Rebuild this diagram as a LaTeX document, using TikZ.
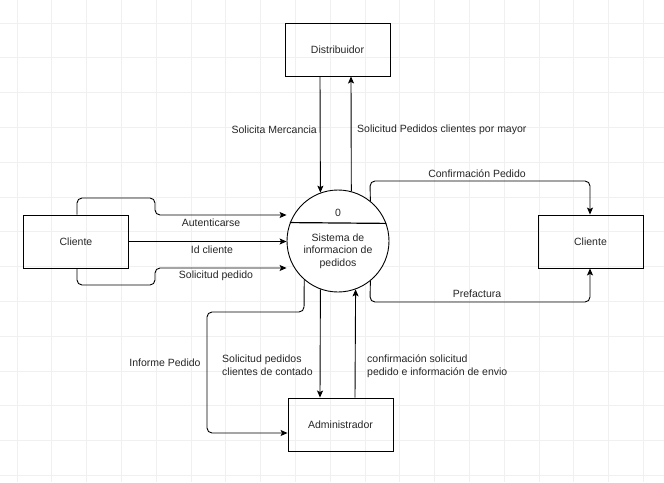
\documentclass[tikz,border=0pt]{standalone}
\usepackage{fontspec}
\setmainfont{Liberation Sans}
\usetikzlibrary{arrows.meta}
\begin{document}
\begin{tikzpicture}[x=1pt,y=-1pt,
  every node/.style={font=\fontsize{10.5}{12.5}\selectfont, text=black!85},
  entity/.style={draw, line width=0.9pt, minimum width=105pt, minimum height=53pt, inner sep=0pt},
  flow/.style={draw, line width=0.9pt, rounded corners=5pt, -{Stealth[length=7pt,width=6pt,inset=1.5pt]}},
  lbl/.style={inner sep=1pt},
  gridline/.style={black!6, line width=0.8pt}]
\useasboundingbox (0,0) rectangle (664,482);
\fill[white] (0,0) rectangle (664,482);
\foreach \i in {0,...,18} {\draw[gridline] ({17+34.8*\i},0) -- ({17+34.8*\i},482);}
\foreach \j in {0,...,13} {\draw[gridline] (0,{23+34.8*\j}) -- (664,{23+34.8*\j});}

% entities
\node[entity] (dist) at (337.5,49.5) {Distribuidor};
\node[entity] (cliL) at (76,241.5) {Cliente};
\node[entity] (cliR) at (590.5,241.5) {Cliente};
\node[entity] (adm) at (340.5,424.5) {Administrador};

% process
\node[draw, circle, line width=0.9pt, minimum size=102pt, inner sep=0pt, fill=white] (circ) at (338,241) {};
\draw[line width=1.2pt] (circ.159.3) -- (circ.20.7);
\node (num) at (338,213) {0};
\node[align=center, font=\fontsize{10.5}{12.5}\selectfont] (txt) at (338,251) {Sistema de\\informacion de\\pedidos};

% Distribuidor flows
\draw[flow] (320,0 |- dist.south) -- (circ.110.7);
\draw[flow] (circ.75.2) -- (351,0 |- dist.south);
\node[lbl, anchor=east] (l1) at (318,130) {Solicita Mercancia};
\node[lbl, anchor=west] (l2) at (356,130) {Solicitud Pedidos clientes por mayor};

% Left Cliente flows
\coordinate (a1) at (77,198);
\coordinate (a2) at (155,215);
\draw[flow] (77,0 |- cliL.north) -- (a1) -- (a1 -| a2) -- (a2) -- (circ.west |- a2);
\draw[flow] (cliL.east) -- (circ.west |- cliL.east);
\coordinate (b1) at (77,285);
\coordinate (b2) at (155,268);
\draw[flow] (77,0 |- cliL.south) -- (b1) -- (b1 -| b2) -- (b2) -- (circ.west |- b2);
\node[lbl] (l3) at (211,223) {Autenticarse};
\node[lbl] (l4) at (212,250) {Id cliente};
\node[lbl] (l5) at (216,276) {Solicitud pedido};

% Right Cliente flows
\coordinate (c1) at (370,181);
\draw[flow] (circ.51.2) -- (c1) -- (590,181) -- (590,0 |- cliR.north);
\coordinate (d1) at (370,302);
\draw[flow] (circ.-51.2) -- (d1) -- (590,302) -- (590,0 |- cliR.south);
\node[lbl] (l6) at (477,174) {Confirmación Pedido};
\node[lbl] (l7) at (477,294) {Prefactura};

% Administrador flows
\draw[flow] (circ.-110.7) -- (320,0 |- adm.north);
\draw[flow] (355,0 |- adm.north) -- (circ.-70.5);
\coordinate (e1) at (304,312);
\coordinate (e2) at (207,433);
\draw[flow] (circ.-131.8) -- (e1) -- (e1 -| e2) -- (e2) -- (adm.west |- e2);
\node[lbl, anchor=west, align=left] (l8) at (221,365) {Solicitud pedidos\\clientes de contado};
\node[lbl, anchor=west, align=left] (l9) at (366,366) {confirmación solicitud\\pedido e información de envio};
\node[lbl] (l10) at (165,363) {Informe Pedido};
\end{tikzpicture}
\end{document}
